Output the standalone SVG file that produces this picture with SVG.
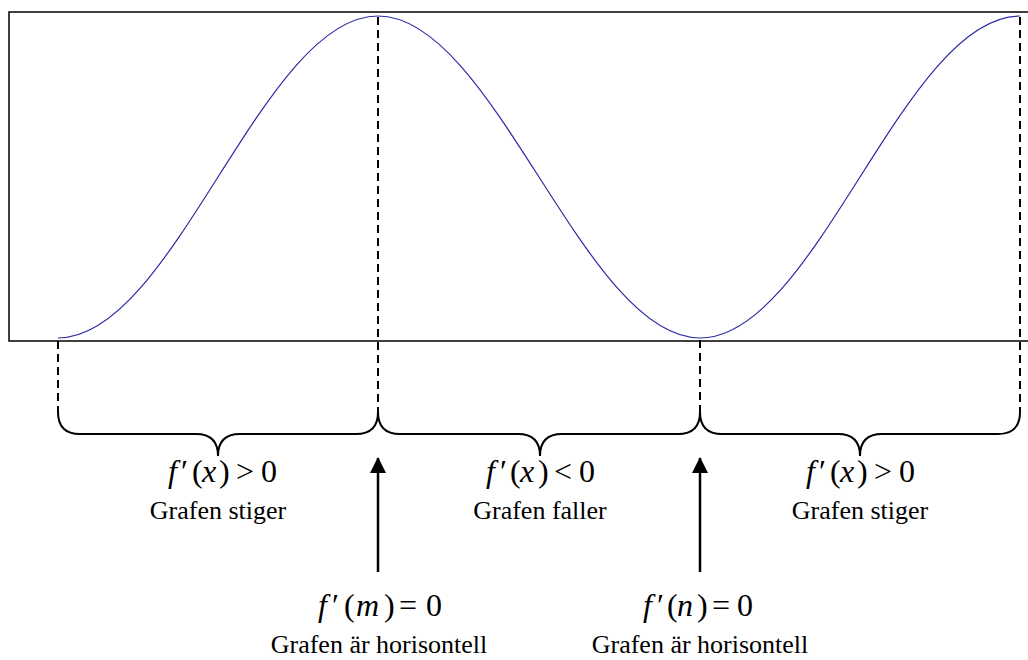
<svg xmlns="http://www.w3.org/2000/svg" width="1028" height="660" viewBox="0 0 1028 660">
<defs>
<marker id="ah" viewBox="0 0 16 16" refX="15" refY="8" markerWidth="16" markerHeight="16" markerUnits="userSpaceOnUse" orient="auto">
<path d="M0,0 L16,8 L0,16 Z" fill="#000"/>
</marker>
</defs>
<g id="graph" fill="none">
<path stroke="#000" stroke-width="1.5" d="M1028,12 L9,12 L9,341 L1028,341"/>
<path stroke="#2b2ba3" stroke-width="1.2" d="M58,338 C174,338 262,16 378,16 C494,16 584,338 700,338 C816,338 904,16 1020,16"/>
</g>
<g id="connectors" fill="none" stroke="#000" stroke-width="2">
<g stroke-dasharray="8,5">
<line x1="58" y1="341" x2="58" y2="412"/>
<line x1="378" y1="17" x2="378" y2="412"/>
<line x1="700" y1="340" x2="700" y2="412"/>
<line x1="1020" y1="17" x2="1020" y2="412"/>
</g>
<path d="M58,412 Q58,434 80,434 L196,434 Q218,434 218,456 Q218,434 240,434 L356,434 Q378,434 378,412"/>
<path d="M378,412 Q378,434 400,434 L518,434 Q540,434 540,456 Q540,434 562,434 L678,434 Q700,434 700,412"/>
<path d="M700,412 Q700,434 722,434 L838,434 Q860,434 860,456 Q860,434 882,434 L998,434 Q1020,434 1020,412"/>
<line stroke-width="2.5" x1="378" y1="572" x2="378" y2="458" marker-end="url(#ah)"/>
<line stroke-width="2.5" x1="700" y1="572" x2="700" y2="458" marker-end="url(#ah)"/>
</g>
<g id="label-increasing-1">
<text font-family="Liberation Serif" font-size="32" y="482"><tspan font-style="italic" x="168">f</tspan><tspan x="181">′</tspan><tspan x="192">(</tspan><tspan font-style="italic" x="202">x</tspan><tspan x="219">)</tspan><tspan x="236">&gt;</tspan><tspan x="261">0</tspan></text>
<text font-family="Liberation Serif" font-size="26" text-anchor="middle" x="218" y="519">Grafen stiger</text>
</g>
<g id="label-decreasing">
<text font-family="Liberation Serif" font-size="32" y="482"><tspan font-style="italic" x="486">f</tspan><tspan x="500">′</tspan><tspan x="510">(</tspan><tspan font-style="italic" x="520">x</tspan><tspan x="538">)</tspan><tspan x="554">&lt;</tspan><tspan x="579">0</tspan></text>
<text font-family="Liberation Serif" font-size="26" text-anchor="middle" x="540" y="519">Grafen faller</text>
</g>
<g id="label-increasing-2">
<text font-family="Liberation Serif" font-size="32" y="482"><tspan font-style="italic" x="806">f</tspan><tspan x="819">′</tspan><tspan x="830">(</tspan><tspan font-style="italic" x="840">x</tspan><tspan x="857">)</tspan><tspan x="874">&gt;</tspan><tspan x="899">0</tspan></text>
<text font-family="Liberation Serif" font-size="26" text-anchor="middle" x="860" y="519">Grafen stiger</text>
</g>
<g id="label-max">
<text font-family="Liberation Serif" font-size="32" y="616"><tspan font-style="italic" x="318">f</tspan><tspan x="332">′</tspan><tspan x="344">(</tspan><tspan font-style="italic" x="356">m</tspan><tspan x="384">)</tspan><tspan x="399">=</tspan><tspan x="426">0</tspan></text>
<text font-family="Liberation Serif" font-size="26" text-anchor="middle" x="379" y="653">Grafen är horisontell</text>
</g>
<g id="label-min">
<text font-family="Liberation Serif" font-size="32" y="616"><tspan font-style="italic" x="643">f</tspan><tspan x="657">′</tspan><tspan x="667">(</tspan><tspan font-style="italic" x="677">n</tspan><tspan x="697">)</tspan><tspan x="712">=</tspan><tspan x="737">0</tspan></text>
<text font-family="Liberation Serif" font-size="26" text-anchor="middle" x="700" y="653">Grafen är horisontell</text>
</g>
</svg>
